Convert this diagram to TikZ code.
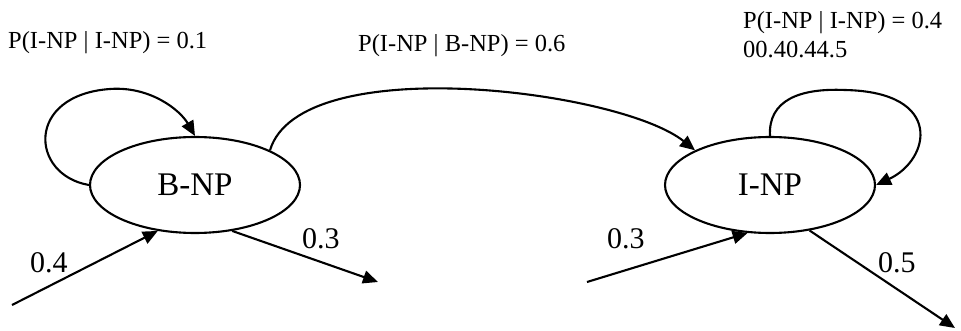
\documentclass[tikz,border=0pt]{standalone}
\usepackage{fontspec}
\setmainfont{Liberation Serif}
\usetikzlibrary{shapes.geometric,arrows.meta}
\begin{document}
\begin{tikzpicture}[x=1pt,y=-1pt,
  state/.style={draw,ellipse,line width=2.1pt,minimum width=210pt,minimum height=96pt,inner sep=0pt,font=\fontsize{33}{36}\selectfont},
  conn/.style={line width=2.1pt,-{Triangle[length=15pt,width=13pt]}},
  prob/.style={anchor=base west,inner sep=0pt,font=\fontsize{30}{34}\selectfont},
  toplab/.style={anchor=base west,inner sep=0pt,font=\fontsize{24.5}{29}\selectfont}]
\useasboundingbox (0,0) rectangle (961,331);
\node[state] (B) at (195,185) {B-NP};
\node[state] (I) at (770,185) {I-NP};
\coordinate (bin) at (12,305);
\coordinate (bout) at (378,282);
\coordinate (iin) at (587,282);
\coordinate (iout) at (955,328);
% self loops
\draw[conn] (B.west) .. controls (30,175) and (25,95) .. (110,89)
  .. controls (150,86) and (180,110) .. (B.north);
\draw[conn] (I.north) .. controls (768,100) and (800,88) .. (845,90)
  .. controls (945,92) and (930,160) .. (I.east);
% B -> I
\draw[conn] (B.north east) .. controls (300,50) and (620,90) .. (I.north west);
% in / out arrows
\draw[conn] (bin) -- (B.231);
\draw[conn] (B.-51) -- (bout);
\draw[conn] (iin) -- (I.245);
\draw[conn] (I.-49) -- (iout);
% labels
\node[prob] (l04) at (30,272) {0.4};
\node[prob] (l03a) at (302,248) {0.3};
\node[prob] (l03b) at (607,248) {0.3};
\node[prob] (l05) at (878,272) {0.5};
\node[toplab] (t1) at (8,49) {P(I-NP | I-NP) = 0.1};
\node[toplab] (t2) at (358,52) {P(I-NP | B-NP) = 0.6};
\node[toplab] (t3) at (743,29) {P(I-NP | I-NP) = 0.4};
\node[toplab] (t4) at (743,58) {00.40.44.5};
\end{tikzpicture}
\end{document}
